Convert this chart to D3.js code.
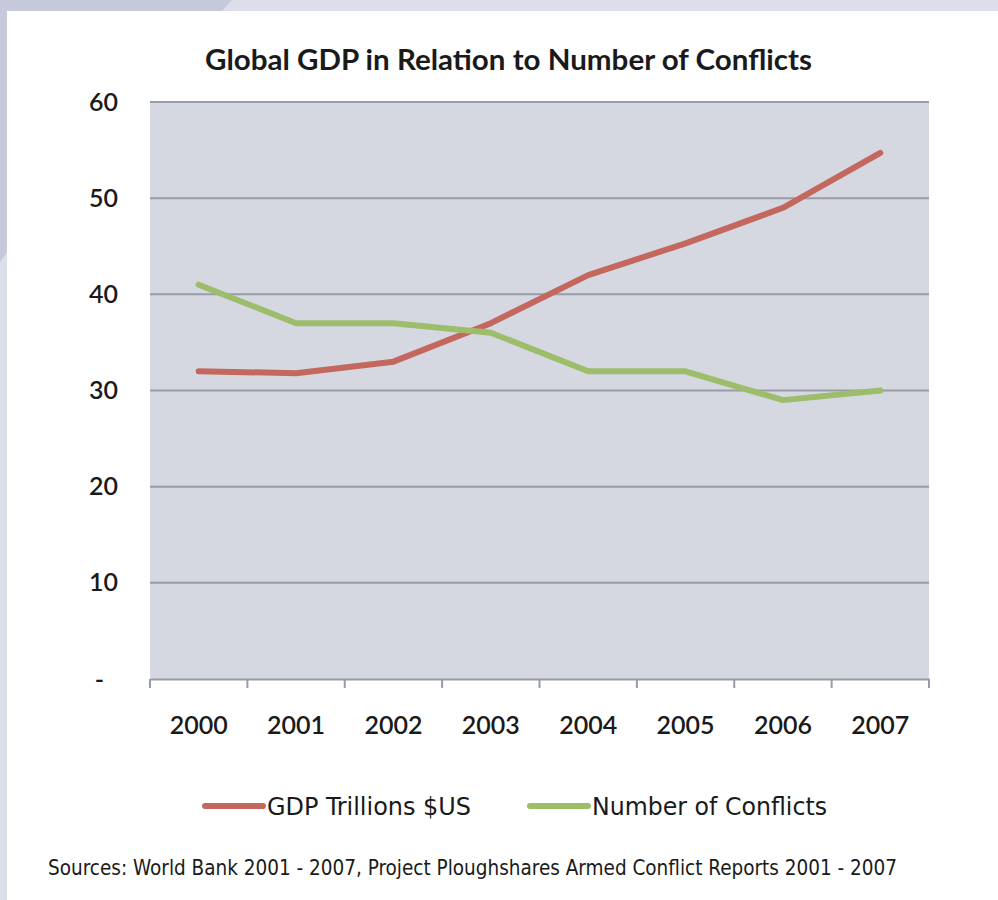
<!DOCTYPE html>
<html>
<head>
<meta charset="utf-8">
<script src="https://cdn.jsdelivr.net/npm/d3@7"></script>
<style>
  body { margin: 0; background: #fff; }
  svg { display: block; }
</style>
</head>
<body>
<div id="chart"></div>
<script>
// chart data
const years = ["2000", "2001", "2002", "2003", "2004", "2005", "2006", "2007"];
const gdp = [32, 31.8, 33, 37, 42, 45.3, 49, 54.7];
const conflicts = [41, 37, 37, 36, 32, 32, 29, 30];
const yTicks = [0, 10, 20, 30, 40, 50, 60];
const seriesNames = ["GDP Trillions $US", "Number of Conflicts"];
const seriesColors = ["#c4675f", "#9dbd6b"];

const W = 998, H = 900;
const svg = d3.select("#chart").append("svg")
    .attr("width", W)
    .attr("height", H);

// page background decoration
svg.append("rect").attr("width", W).attr("height", H).attr("fill", "#dcdfe9");
svg.append("path").attr("d", "M0,0 L232,0 L222,11 L7,11 L7,252 L0,262 Z").attr("fill", "#c6c9db");
svg.append("rect").attr("x", 7).attr("y", 11).attr("width", W - 7).attr("height", H - 11).attr("fill", "#fff");

const plotLeft = 150, plotRight = 929, plotTop = 102, plotBottom = 679;
const mainFont = "Lato, 'Open Sans', sans-serif";
const narrowFont = "'DejaVu Sans Condensed', 'Open Sans', sans-serif";

const x = d3.scaleBand().domain(years).range([plotLeft, plotRight]);
const y = d3.scaleLinear().domain([0, 60]).range([plotBottom, plotTop]);

// plot background
svg.append("rect")
    .attr("x", plotLeft).attr("y", plotTop)
    .attr("width", plotRight - plotLeft).attr("height", plotBottom - plotTop)
    .attr("fill", "#d5d8e0");

// gridlines
svg.append("g")
    .selectAll("line")
    .data(yTicks.filter(d => d > 0))
    .join("line")
    .attr("x1", plotLeft).attr("x2", plotRight)
    .attr("y1", d => y(d)).attr("y2", d => y(d))
    .attr("stroke", "#979ca6")
    .attr("stroke-width", 2);

// x axis
const xAxis = svg.append("g")
    .attr("transform", `translate(0,${plotBottom})`)
    .call(d3.axisBottom(x).tickSize(0).tickPadding(37));
xAxis.select(".domain").attr("stroke", "#979ca6").attr("stroke-width", 2);
xAxis.selectAll("text")
    .attr("font-family", mainFont)
    .attr("font-size", 25)
    .attr("font-weight", 600)
    .attr("fill", "#1a1a1a");

// category boundary ticks
svg.append("g")
    .selectAll("line")
    .data(years.map(d => x(d)).concat([plotRight]))
    .join("line")
    .attr("x1", d => d).attr("x2", d => d)
    .attr("y1", plotBottom).attr("y2", plotBottom + 9)
    .attr("stroke", "#979ca6")
    .attr("stroke-width", 2);

// y axis labels
const yAxis = svg.append("g")
    .attr("transform", `translate(${plotLeft},0)`)
    .call(d3.axisLeft(y).tickValues(yTicks).tickSize(0).tickPadding(32)
        .tickFormat(d => d === 0 ? "-" : d));
yAxis.select(".domain").remove();
yAxis.selectAll("text")
    .attr("font-family", mainFont)
    .attr("font-size", 25)
    .attr("font-weight", 600)
    .attr("fill", "#1a1a1a")
    .attr("dx", d => d === 0 ? -14 : 0);

// lines
const line = d3.line()
    .x((d, i) => x(years[i]) + x.bandwidth() / 2)
    .y(d => y(d));

[gdp, conflicts].forEach((s, i) => {
    svg.append("path")
        .datum(s)
        .attr("fill", "none")
        .attr("stroke", seriesColors[i])
        .attr("stroke-width", 6)
        .attr("stroke-linejoin", "round")
        .attr("stroke-linecap", "round")
        .attr("d", line);
});

// title
svg.append("text")
    .attr("x", 205).attr("y", 70)
    .attr("font-family", mainFont)
    .attr("font-weight", "bold")
    .attr("font-size", 28)
    .attr("textLength", 607)
    .attr("lengthAdjust", "spacingAndGlyphs")
    .attr("fill", "#1a1a1a")
    .text("Global GDP in Relation to Number of Conflicts");

// legend
const legendX = [205, 530];
const legendTextW = [204, 235];
seriesNames.forEach((name, i) => {
    const g = svg.append("g").attr("transform", `translate(${legendX[i]},806)`);
    g.append("line")
        .attr("x1", 0).attr("x2", 58)
        .attr("stroke", seriesColors[i])
        .attr("stroke-width", 6)
        .attr("stroke-linecap", "round");
    g.append("text")
        .attr("x", 62).attr("y", 9)
        .attr("font-family", narrowFont)
        .attr("font-size", 25)
        .attr("textLength", legendTextW[i])
        .attr("lengthAdjust", "spacingAndGlyphs")
        .attr("fill", "#1a1a1a")
        .text(name);
});

// source note
svg.append("text")
    .attr("x", 48).attr("y", 875)
    .attr("font-family", narrowFont)
    .attr("font-size", 21)
    .attr("textLength", 849)
    .attr("lengthAdjust", "spacingAndGlyphs")
    .attr("fill", "#1a1a1a")
    .text("Sources: World Bank 2001 - 2007, Project Ploughshares Armed Conflict Reports 2001 - 2007");
</script>
</body>
</html>
